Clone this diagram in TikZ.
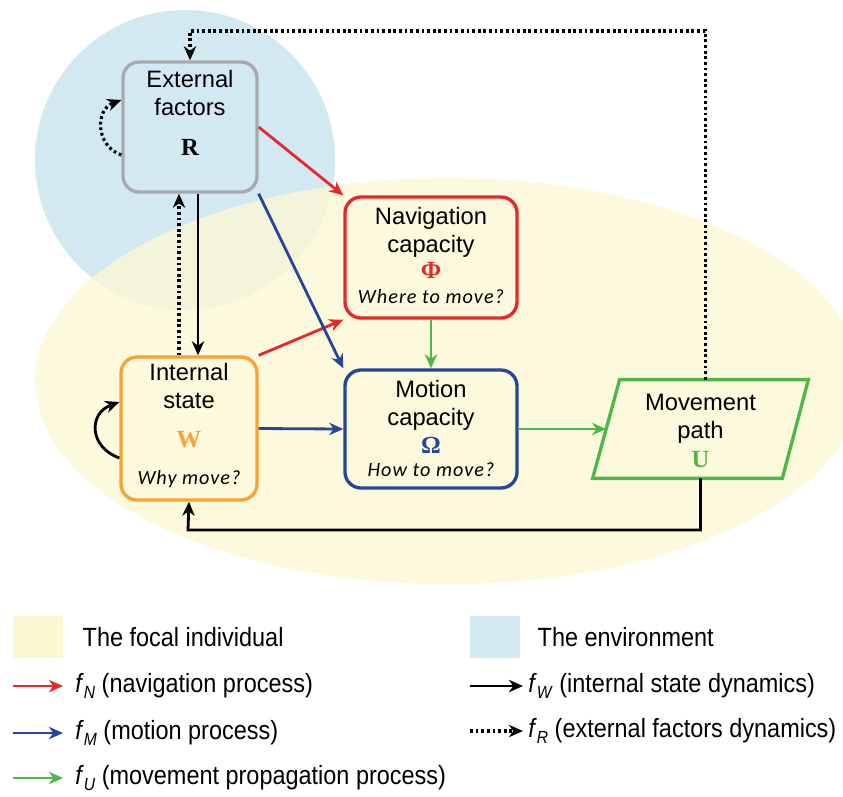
\documentclass[tikz,border=0pt]{standalone}
\usepackage{fontspec}
\setmainfont{Liberation Sans}
\newfontfamily\qfont[LetterSpace=5]{Carlito}
\newfontfamily\symfont{Liberation Serif}
\newfontfamily\keyfont[FakeStretch=0.89]{Liberation Sans}
\usepackage{tikz}
\usetikzlibrary{arrows.meta}
\usetikzlibrary{positioning}

\definecolor{navred}{HTML}{E8272C}
\definecolor{motblue}{HTML}{24479C}
\definecolor{propgreen}{HTML}{4DB749}
\definecolor{intorange}{HTML}{F7A232}
\definecolor{extgray}{HTML}{A7A9AC}
\definecolor{indyellow}{HTML}{FBF7D3}
\definecolor{envblue}{HTML}{D3E9F2}

\newcommand{\fsub}[1]{\textit{f}\raisebox{-0.45ex}{\fontsize{10}{10}\selectfont\textit{#1}}}
\newcommand{\quest}[1]{{\qfont\itshape\fontsize{11.5}{14}\selectfont #1}}
\newcommand{\bvar}[1]{{\symfont\bfseries\fontsize{14}{16}\selectfont #1}}

\tikzset{
  box/.style={draw, line width=1.9pt, rounded corners=0.32cm, inner sep=0cm},
  boxtext/.style={align=center, inner sep=0cm,
                  font=\fontsize{13.5}{16}\selectfont},
  fN/.style={->, line width=1.6pt, navred},
  fM/.style={->, line width=1.6pt, motblue},
  fU/.style={->, line width=1.6pt, propgreen},
  fW/.style={->, line width=1.6pt, black},
  fR/.style={->, line width=1.8pt, black, dash pattern=on 1.6pt off 1.6pt},
  swatch/.style={minimum width=1cm, minimum height=0.84cm, inner sep=0cm},
  keytext/.style={inner sep=0cm, font=\keyfont\fontsize{15}{17}\selectfont}
}

\begin{document}
\begin{tikzpicture}[>={Stealth[length=8pt, width=7pt, inset=2.5pt]}]
\useasboundingbox (0,0) rectangle (16.86,-15.92);

% the environment and the focal individual
\fill[envblue] (3.7,-3.2) circle (3.0cm);
\fill[indyellow, opacity=0.8] (8.96,-7.62) ellipse (8.26cm and 4.06cm);

% state boxes
\node[box, draw=extgray, minimum width=2.68cm, minimum height=2.6cm] (ext) at (3.80,-2.54) {};
\node[box, draw=navred, minimum width=3.44cm, minimum height=2.42cm] (nav) at (8.62,-5.15) {};
\node[box, draw=intorange, minimum width=2.72cm, minimum height=2.86cm] (int) at (3.78,-8.57) {};
\node[box, draw=motblue, minimum width=3.44cm, minimum height=2.36cm] (mot) at (8.62,-8.58) {};
\node[minimum width=4.3cm, minimum height=1.96cm, inner sep=0cm] (mpath) at (14.01,-8.58) {};
\draw[propgreen, line width=1.9pt] ([xshift=0.54cm]mpath.north west) -- (mpath.north east)
  -- ([xshift=-0.52cm]mpath.south east) -- (mpath.south west) -- cycle;

\node[boxtext, below=0.19cm of ext.north] (exttxt) {External\\factors\\[7pt]\bvar{R}};
\node[boxtext, below=0.23cm of nav.north] (navtxt) {Navigation\\capacity\\[-1pt]\bvar{\color{navred}Φ}\\[-2pt]\quest{Where to move?}};
\node[boxtext, below=0.15cm of int.north] (inttxt) {Internal\\state\\[6pt]\bvar{\color{intorange}W}\\[5pt]\quest{Why move?}};
\node[boxtext, below=0.23cm of mot.north] (mottxt) {Motion\\capacity\\\bvar{\color{motblue}Ω}\\[-3pt]\quest{How to move?}};
\node[boxtext, below=0.29cm of mpath.north] (pathtxt) {Movement\\path\\\bvar{\color{propgreen}U}};

% corners of the long connectors
\coordinate (rtop) at (3.80,-0.62);
\coordinate (wbot) at (3.76,-10.6);

% processes
\draw[fN] (ext.east) -- (nav.north west);
\draw[fN] (int.north east) -- (nav.south west);
\draw[fM] (ext.south east) -- (mot.north west);
\draw[fM] (int.east) -- (mot.west);
\draw[fU] (nav.south) -- (mot.north);
\draw[fU] (mot.east) -- ([xshift=0.27cm]mpath.west);

% dynamics
\draw[fW] ([xshift=0.16cm]ext.south) -- ([xshift=0.16cm]ext.south |- int.north);
\draw[fR] ([xshift=-0.2cm]int.north) -- ([xshift=-0.2cm]int.north |- ext.south);
\draw[fW] (mpath.south) |- (wbot) -- (int.south);
\draw[fR] ([xshift=0.1cm]mpath.north) |- (rtop) -- (ext.north);
\draw[fR] ([yshift=-0.56cm]ext.west) to[out=160, in=200, looseness=1.3] ([yshift=0.54cm]ext.west);
\draw[fW] ([yshift=-0.59cm]int.west) to[out=160, in=200, looseness=1.5] ([yshift=0.53cm]int.west);

% legend
\node[swatch, fill=indyellow] (swY) at (0.76,-12.74) {};
\node[keytext, right=0.38cm of swY] (keyY) {The focal individual};
\node[swatch, fill=envblue] (swB) at (9.9,-12.74) {};
\node[keytext, right=0.34cm of swB] (keyB) {The environment};

\coordinate (lgN) at (0.26,-13.72);
\coordinate (lgM) at (0.26,-14.66);
\coordinate (lgU) at (0.26,-15.56);
\coordinate (lgW) at (9.4,-13.72);
\coordinate (lgR) at (9.4,-14.62);
\node[keytext, right=1.24cm of lgN] (keyN) {\fsub{N} (navigation process)};
\node[keytext, right=1.24cm of lgM] (keyM) {\fsub{M} (motion process)};
\node[keytext, right=1.24cm of lgU] (keyU) {\fsub{U} (movement propagation process)};
\node[keytext, right=1.16cm of lgW] (keyW) {\fsub{W} (internal state dynamics)};
\node[keytext, right=1.16cm of lgR] (keyR) {\fsub{R} (external factors dynamics)};
\draw[fN, shorten >=0.24cm] (lgN) -- (keyN);
\draw[fM, shorten >=0.24cm] (lgM) -- (keyM);
\draw[fU, shorten >=0.24cm] (lgU) -- (keyU);
\draw[fW, shorten >=0.1cm] (lgW) -- (keyW);
\draw[fR, shorten >=0.1cm] (lgR) -- (keyR);
\end{tikzpicture}
\end{document}
